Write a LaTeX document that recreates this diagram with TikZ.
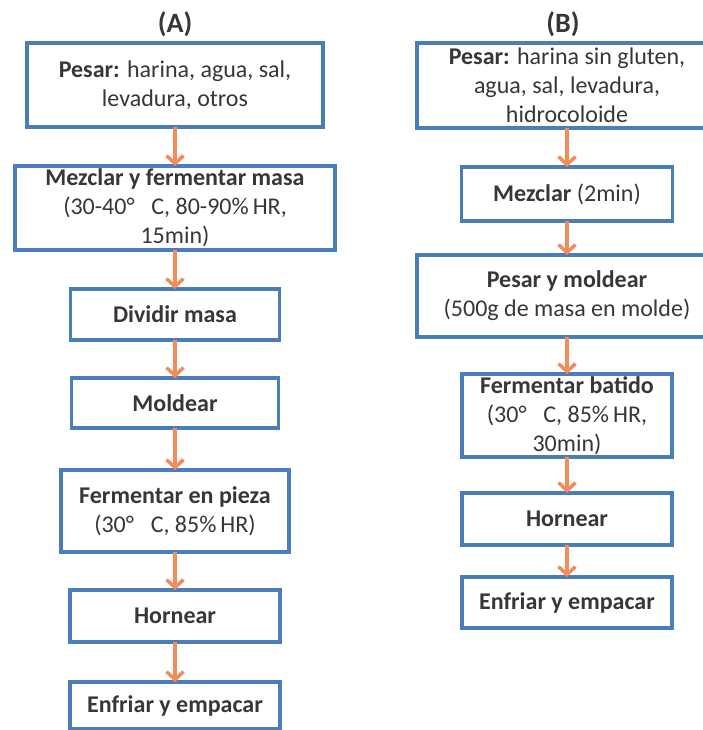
\documentclass[tikz,border=0pt]{standalone}
\usepackage{fontspec}
\setmainfont{Carlito}
\usepackage{tikz}
\usetikzlibrary{arrows.meta,positioning}
\definecolor{boxblue}{RGB}{74,126,187}
\definecolor{arrowcolor}{RGB}{242,140,90}
\definecolor{textgray}{RGB}{55,55,55}

\begin{document}
\begin{tikzpicture}[x=1pt,y=1pt,>={Straight Barb[length=8pt,width=17pt,line width=3.5pt]},font=\fontsize{24}{29}\selectfont]
\tikzstyle{box}=[draw=boxblue,line width=3.5pt,fill=white,text=textgray,align=center,inner sep=0pt,outer sep=0pt]
\tikzstyle{title}=[text=textgray,font=\bfseries\fontsize{28}{30}\selectfont]
\useasboundingbox (0,0) rectangle (703,-730);
\clip (0,0) rectangle (703,-730);
\fill[white] (0,0) rectangle (703,-730);
   % (A)
   \node[title] (ta) at (175,-24) {(A)};
   \node[box,minimum width=296pt,minimum height=84pt] (a1) at (175,-85) {\textbf{Pesar:} harina, agua, sal,\\levadura, otros};
   \node[box,minimum width=320pt,minimum height=84pt] (a2) [below=39pt of a1] {\textbf{Mezclar y fermentar masa}\\(30-40°\hspace{0.7em}C,\ 80-90\%\,HR,\\15min)};
   \node[box,minimum width=209pt,minimum height=51pt] (a3) [below=39pt of a2] {\textbf{Dividir masa}};
   \node[box,minimum width=207pt,minimum height=50pt] (a4) [below=38pt of a3] {\textbf{Moldear}};
   \node[box,minimum width=228pt,minimum height=82pt] (a5) [below=42pt of a4] {\textbf{Fermentar en pieza}\\(30°\hspace{0.7em}C, 85\%\,HR)};
   \node[box,minimum width=210pt,minimum height=52pt] (a6) [below=38pt of a5] {\textbf{Hornear}};
   \node[box,minimum width=210pt,minimum height=47pt] (a7) [below=40pt of a6] {\textbf{Enfriar y empacar}};
   % (B)
   \node[title] (tb) at (563,-24) {(B)};
   \node[box,minimum width=300pt,minimum height=85pt] (b1) at (567,-85.5) {\textbf{Pesar:} harina sin gluten,\\agua, sal, levadura,\\hidrocoloide};
   \node[box,minimum width=211pt,minimum height=54pt] (b2) [below=39pt of b1] {\textbf{Mezclar} (2min)};
   \node[box,minimum width=300pt,minimum height=82pt] (b3) [below=34pt of b2] {\textbf{Pesar y moldear}\\(500g de masa en molde)};
   \node[box,minimum width=210pt,minimum height=83pt] (b4) [below=37pt of b3] {\textbf{Fermentar batido}\\(30°\hspace{0.7em}C, 85\%\,HR,\\30min)};
   \node[box,minimum width=210pt,minimum height=52pt] (b5) [below=36pt of b4] {\textbf{Hornear}};
   \node[box,minimum width=210pt,minimum height=51pt] (b6) [below=32pt of b5] {\textbf{Enfriar y empacar}};
    \path[->,arrowcolor,line width=3.5pt]
    (a1) edge (a2)
    (a2) edge (a3)
    (a3) edge (a4)
    (a4) edge (a5)
    (a5) edge (a6)
    (a6) edge (a7)
    (b1) edge (b2)
    (b2) edge (b3)
    (b3) edge (b4)
    (b4) edge (b5)
    (b5) edge (b6);
\end{tikzpicture}
\end{document}
